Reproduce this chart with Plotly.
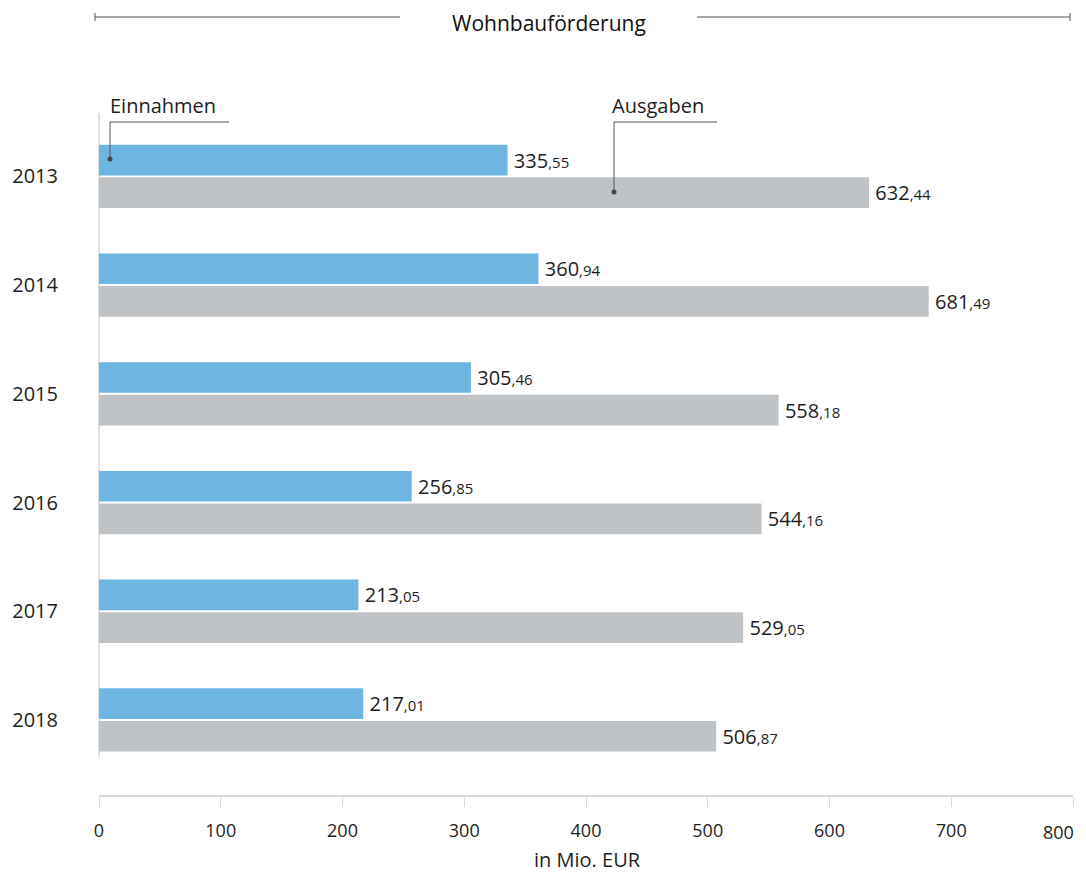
import plotly.graph_objects as go

years = ["2013", "2014", "2015", "2016", "2017", "2018"]
einnahmen = [335.55, 360.94, 305.46, 256.85, 213.05, 217.01]
ausgaben = [632.44, 681.49, 558.18, 544.16, 529.05, 506.87]
x_ticks = [0, 100, 200, 300, 400, 500, 600, 700, 800]
title_text = "Wohnbauförderung"
x_title = "in Mio. EUR"
series_names = ["Einnahmen", "Ausgaben"]

BLUE = "#6DB6E2"
GREY = "#C0C3C6"
FONT = "Open Sans"
TXT = "#1E1E1E"

OFF = 8  # page body margin
W, H = 1086 - 2 * OFF, 872 - OFF
# screen-space plot box: left 99, right 1073, top 122, bottom 795
L, T = 99 - OFF, 122 - OFF
R = W - (1073 - OFF)
B = H - (795 - OFF)
PW, PH = W - L - R, H - T - B


def px(xs):
    return (xs - OFF - L) / PW


def py(ys):
    return (H - B - (ys - OFF)) / PH


def label(v):
    s = f"{v:.2f}"
    ip, dp = s.split(".")
    return f"\u2009{ip}<span style='font-size:15px'>,{dp}</span>"


fig = go.Figure()
fig.add_trace(go.Bar(
    y=years, x=einnahmen, orientation="h", name=series_names[0],
    marker=dict(color=BLUE, line=dict(width=0)),
    text=[label(v) for v in einnahmen], textposition="outside",
    textfont=dict(size=20, color=TXT, family=FONT), cliponaxis=False,
))
fig.add_trace(go.Bar(
    y=years, x=ausgaben, orientation="h", name=series_names[1],
    marker=dict(color=GREY, line=dict(width=0)),
    text=[label(v) for v in ausgaben], textposition="outside",
    textfont=dict(size=20, color=TXT, family=FONT), cliponaxis=False,
))

shapes = []
LC = "#555555"
shapes += [
    dict(type="line", xref="paper", yref="paper", x0=px(95), x1=px(400), y0=py(17), y1=py(17), line=dict(color=LC, width=1)),
    dict(type="line", xref="paper", yref="paper", x0=px(697), x1=px(1070), y0=py(17), y1=py(17), line=dict(color=LC, width=1)),
    dict(type="line", xref="paper", yref="paper", x0=px(95), x1=px(95), y0=py(13), y1=py(21), line=dict(color=LC, width=1)),
    dict(type="line", xref="paper", yref="paper", x0=px(1070), x1=px(1070), y0=py(13), y1=py(21), line=dict(color=LC, width=1)),
]
shapes.append(dict(type="line", xref="paper", yref="paper", x0=px(99), x1=px(99), y0=py(113), y1=py(757),
                   line=dict(color="#D9D9D9", width=1.5), layer="below"))
for (x0, x1, yd) in [(110, 229, 159), (614, 717, 192)]:
    shapes.append(dict(type="line", xref="paper", yref="paper", x0=px(x0), x1=px(x1), y0=py(122), y1=py(122), line=dict(color=LC, width=1)))
    shapes.append(dict(type="line", xref="paper", yref="paper", x0=px(x0), x1=px(x0), y0=py(122), y1=py(yd), line=dict(color=LC, width=1)))
    shapes.append(dict(type="circle", xref="paper", yref="paper", x0=px(x0 - 2.5), x1=px(x0 + 2.5), y0=py(yd - 2.5), y1=py(yd + 2.5),
                       fillcolor="#444444", line=dict(width=0)))

annotations = [
    dict(text=title_text, xref="paper", yref="paper", x=px(549), y=py(23), xanchor="center", yanchor="middle",
         showarrow=False, font=dict(size=21, color="#111111", family=FONT)),
    dict(text=series_names[0], xref="paper", yref="paper", x=px(108), y=py(105), xanchor="left", yanchor="middle",
         showarrow=False, font=dict(size=20, color=TXT, family=FONT)),
    dict(text=series_names[1], xref="paper", yref="paper", x=px(610), y=py(105), xanchor="left", yanchor="middle",
         showarrow=False, font=dict(size=20, color=TXT, family=FONT)),
    dict(text=x_title, xref="paper", yref="paper", x=px(587), y=py(859), xanchor="center", yanchor="middle",
         showarrow=False, font=dict(size=20, color=TXT, family=FONT)),
    # last tick label, kept inside the page edge as in the reference
    dict(text=str(x_ticks[-1]), xref="x", yref="paper", x=x_ticks[-1], y=py(832), xanchor="right", yanchor="middle",
         xshift=3, showarrow=False, font=dict(size=18, color=TXT, family=FONT)),
]

fig.update_layout(
    width=W, height=H,
    margin=dict(l=L, r=R, t=T, b=B, pad=0, autoexpand=False),
    paper_bgcolor="white", plot_bgcolor="white",
    barmode="group", bargap=0.4, bargroupgap=0.06,
    showlegend=False,
    font=dict(family=FONT, color=TXT, size=19),
    shapes=shapes, annotations=annotations,
)
fig.update_xaxes(
    range=[0, 800], tickvals=x_ticks,
    ticktext=[str(v) for v in x_ticks[:-1]] + [""],
    showgrid=False, zeroline=False,
    showline=True, linecolor="#D9D9D9", linewidth=1.5,
    ticks="outside", ticklen=10, tickcolor="#D9D9D9", tickwidth=1,
    tickfont=dict(size=18, color=TXT, family=FONT), ticklabelstandoff=9,
    automargin=False,
)
fig.update_yaxes(
    type="category", categoryorder="array", categoryarray=years,
    range=[5.69, -0.5], showgrid=False, zeroline=False, showline=False,
    ticks="", tickfont=dict(size=20, color=TXT, family=FONT), ticklabelstandoff=40,
    automargin=False,
)

fig.write_html("out.html")
